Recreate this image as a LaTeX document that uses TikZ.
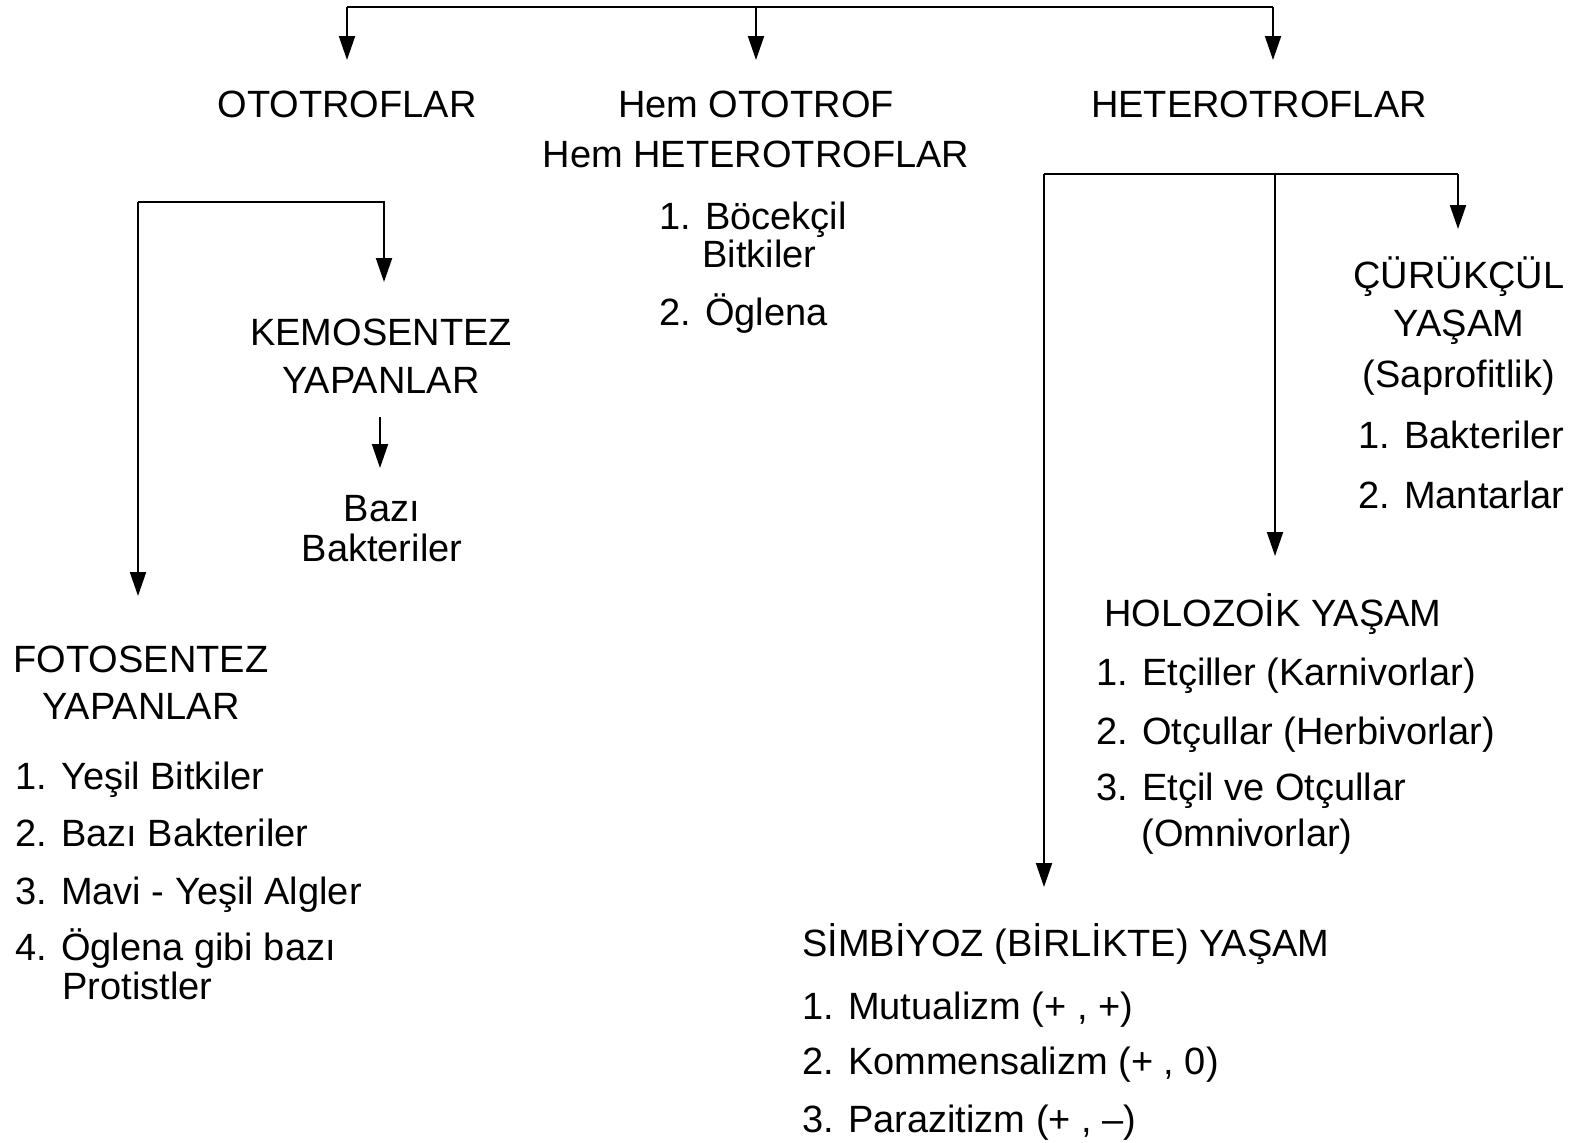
\documentclass[tikz,border=0pt]{standalone}
\usepackage{fontspec}
\setmainfont{Liberation Sans}
\usetikzlibrary{arrows.meta}
\begin{document}
\begin{tikzpicture}[x=0.5pt,y=-0.5pt,
  txt/.style={inner sep=0pt, font=\fontsize{19}{24}\selectfont},
  ln/.style={txt, anchor=base west},
  ctr/.style={txt, anchor=base},
  link/.style={line width=1pt},
  arr/.style={link, -{Triangle[width=8pt,length=12pt]}}]
\useasboundingbox (0,0) rectangle (1577,1142);

% ---- top level ----
\node[ctr] (ototrof) at (347,117) {OTOTROFLAR};
\node[ctr] (hem1) at (756,117) {Hem OTOTROF};
\node[ctr] (hem2) at (756,167) {Hem HETEROTROFLAR};
\node[ctr] (hetero) at (1259,117) {HETEROTROFLAR};

\coordinate (t1) at (347,7);
\coordinate (t2) at (756,7);
\coordinate (t3) at (1273,7);
\coordinate (ototrof-in) at (347,60);
\coordinate (hem-in) at (756,60);
\coordinate (hetero-in) at (1273,60);
\draw[link] (t1) -- (t3);
\draw[arr] (t1) -- (ototrof-in);
\draw[arr] (t2) -- (hem-in);
\draw[arr] (t3) -- (hetero-in);

% ---- mixed feeders ----
\node[ln] (hm1) at (659,229) {1. Böcekçil};
\node[ln] (hm1b) at (702,267) {Bitkiler};
\node[ln] (hm2) at (659,325) {2. Öglena};

% ---- autotroph branch ----
\coordinate (lb-l) at (138,202);
\coordinate (lb-r) at (384,202);
\coordinate (kemo-in) at (384,282);
\coordinate (foto-in) at (138,596);
\draw[arr] (lb-l) -- (lb-r) -- (kemo-in);
\draw[arr] (lb-l) -- (foto-in);

\node[ctr] (kemo1) at (381,345) {KEMOSENTEZ};
\node[ctr] (kemo2) at (381,393) {YAPANLAR};
\coordinate (kemo-out) at (380,417);
\coordinate (bazi-in) at (380,468);
\draw[arr] (kemo-out) -- (bazi-in);
\node[ctr] (bazi1) at (382,521) {Bazı};
\node[ctr] (bazi2) at (382,561) {Bakteriler};

\node[ctr] (foto1) at (141,672) {FOTOSENTEZ};
\node[ctr] (foto2) at (141,719) {YAPANLAR};
\node[ln] (fi1) at (15,789) {1. Yeşil Bitkiler};
\node[ln] (fi2) at (15,846) {2. Bazı Bakteriler};
\node[ln] (fi3) at (15,904) {3. Mavi - Yeşil Algler};
\node[ln] (fi4) at (15,960) {4. Öglena gibi bazı};
\node[ln] (fi4b) at (62,999) {Protistler};

% ---- heterotroph branch ----
\coordinate (rb-l) at (1044,174);
\coordinate (rb-m) at (1275,174);
\coordinate (rb-r) at (1458,174);
\coordinate (curuk-in) at (1458,229);
\coordinate (holo-in) at (1275,556);
\coordinate (simb-in) at (1044,887);
\draw[link] (rb-l) -- (rb-r);
\draw[arr] (rb-r) -- (curuk-in);
\draw[arr] (rb-m) -- (holo-in);
\draw[arr] (rb-l) -- (simb-in);

\node[ctr] (cur1) at (1459,288) {ÇÜRÜKÇÜL};
\node[ctr] (cur2) at (1459,336) {YAŞAM};
\node[ctr] (cur3) at (1459,387) {(Saprofitlik)};
\node[ln] (ci1) at (1358,448) {1. Bakteriler};
\node[ln] (ci2) at (1358,508) {2. Mantarlar};

\node[ln] (holo) at (1104,626) {HOLOZOİK YAŞAM};
\node[ln] (hi1) at (1096,685) {1. Etçiller (Karnivorlar)};
\node[ln] (hi2) at (1096,744) {2. Otçullar (Herbivorlar)};
\node[ln] (hi3) at (1096,800) {3. Etçil ve Otçullar};
\node[ln] (hi3b) at (1141,846) {(Omnivorlar)};

\node[ln] (simb) at (802,956) {SİMBİYOZ (BİRLİKTE) YAŞAM};
\node[ln] (si1) at (802,1019) {1. Mutualizm (+ , +)};
\node[ln] (si2) at (802,1074) {2. Kommensalizm (+ , 0)};
\node[ln] (si3) at (802,1132) {3. Parazitizm (+ , –)};
\end{tikzpicture}
\end{document}
